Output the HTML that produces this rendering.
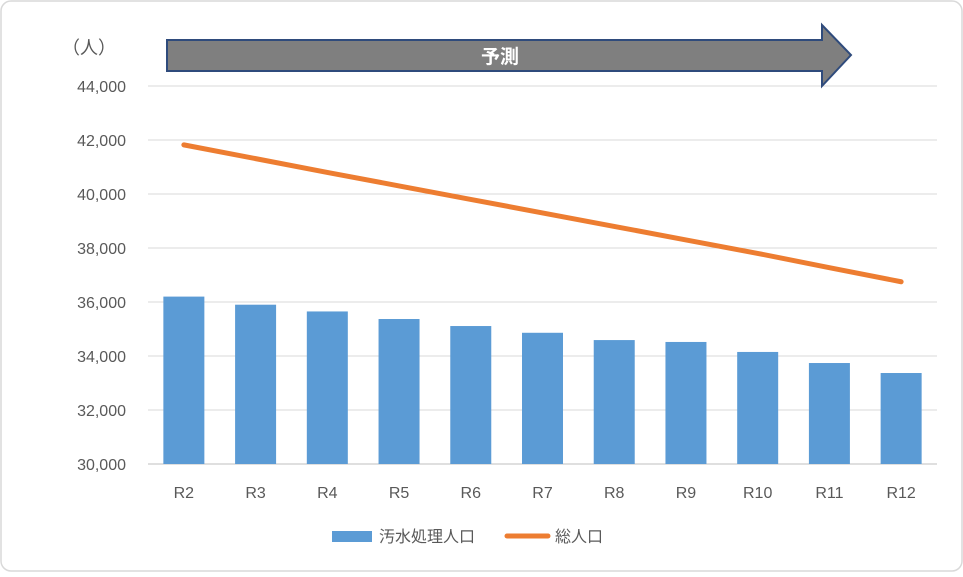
<!DOCTYPE html>
<html><head><meta charset="utf-8"><style>
body{margin:0;background:#fff;}
svg text{font-family:"Liberation Sans","Noto Sans CJK JP",sans-serif;}
</style></head><body>
<svg width="963" height="572" viewBox="0 0 963 572" xmlns="http://www.w3.org/2000/svg">
<rect x="1" y="1" width="961" height="570" rx="10" fill="#fff" stroke="#d9d9d9" stroke-width="1.5"/>
<g id="grid"></g><g id="bars"></g><g id="line"></g><g id="ylabels"></g><g id="xlabels"></g>
<text x="62" y="54" font-size="18" fill="#595959">（人）</text>
<g>
<polygon points="167,40 822,40 822,25 851,55 822,86 822,71 167,71" fill="#7f7f7f" stroke="#2f4b7c" stroke-width="2"/>
<text x="500" y="63" font-size="19" font-weight="bold" fill="#fff" text-anchor="middle">予測</text>
</g>
<g>
<rect x="332" y="531" width="40" height="11" fill="#5b9bd5"/>
<text x="379" y="542" font-size="16" fill="#595959">汚水処理人口</text>
<line x1="507" y1="536" x2="548" y2="536" stroke="#ed7d31" stroke-width="5" stroke-linecap="round"/>
<text x="555" y="542" font-size="16" fill="#595959">総人口</text>
</g>
</svg>
<script>
const categories=["R2","R3","R4","R5","R6","R7","R8","R9","R10","R11","R12"];
const sewageValues=[36200,35900,35650,35370,35110,34860,34590,34520,34150,33740,33370];
const totalValues=[41820,41310,40800,40300,39800,39300,38800,38300,37800,37270,36750];
const yTicks=[30000,32000,34000,36000,38000,40000,42000,44000];
const yMin=30000,yMax=44000,plotTop=86,plotBottom=464,plotLeft=148,plotRight=937;
const ns="http://www.w3.org/2000/svg";
function yScale(v){return plotBottom-(v-yMin)/(yMax-yMin)*(plotBottom-plotTop);}
const step=(plotRight-plotLeft)/categories.length;
function xc(i){return plotLeft+step*(i+0.5);}
function mk(tag,attrs,parent,txt){const e=document.createElementNS(ns,tag);for(const k in attrs)e.setAttribute(k,attrs[k]);if(txt!==undefined)e.textContent=txt;document.getElementById(parent).appendChild(e);return e;}
yTicks.forEach(t=>{
 const g=mk("line",{x1:plotLeft,x2:plotRight,y1:yScale(t),y2:yScale(t),stroke:t===yMin?"#bfbfbf":"#d9d9d9","stroke-width":1},"grid");
 
 
 const l=mk("text",{x:126,y:yScale(t)+6,"font-size":16,fill:"#595959","text-anchor":"end"},"ylabels",t.toLocaleString("en-US"));
 
 
});
categories.forEach((c,i)=>{
 const b=mk("rect",{x:xc(i)-20.5,y:yScale(sewageValues[i]),width:41,height:plotBottom-yScale(sewageValues[i]),fill:"#5b9bd5"},"bars");
 
 
 const l=mk("text",{x:xc(i),y:498,"font-size":16,fill:"#595959","text-anchor":"middle"},"xlabels",c);
 
 
});
const p=mk("polyline",{points:totalValues.map((v,i)=>xc(i)+","+yScale(v)).join(" "),fill:"none",stroke:"#ed7d31","stroke-width":5,"stroke-linecap":"round","stroke-linejoin":"round"},"line");


</script>
</body></html>
